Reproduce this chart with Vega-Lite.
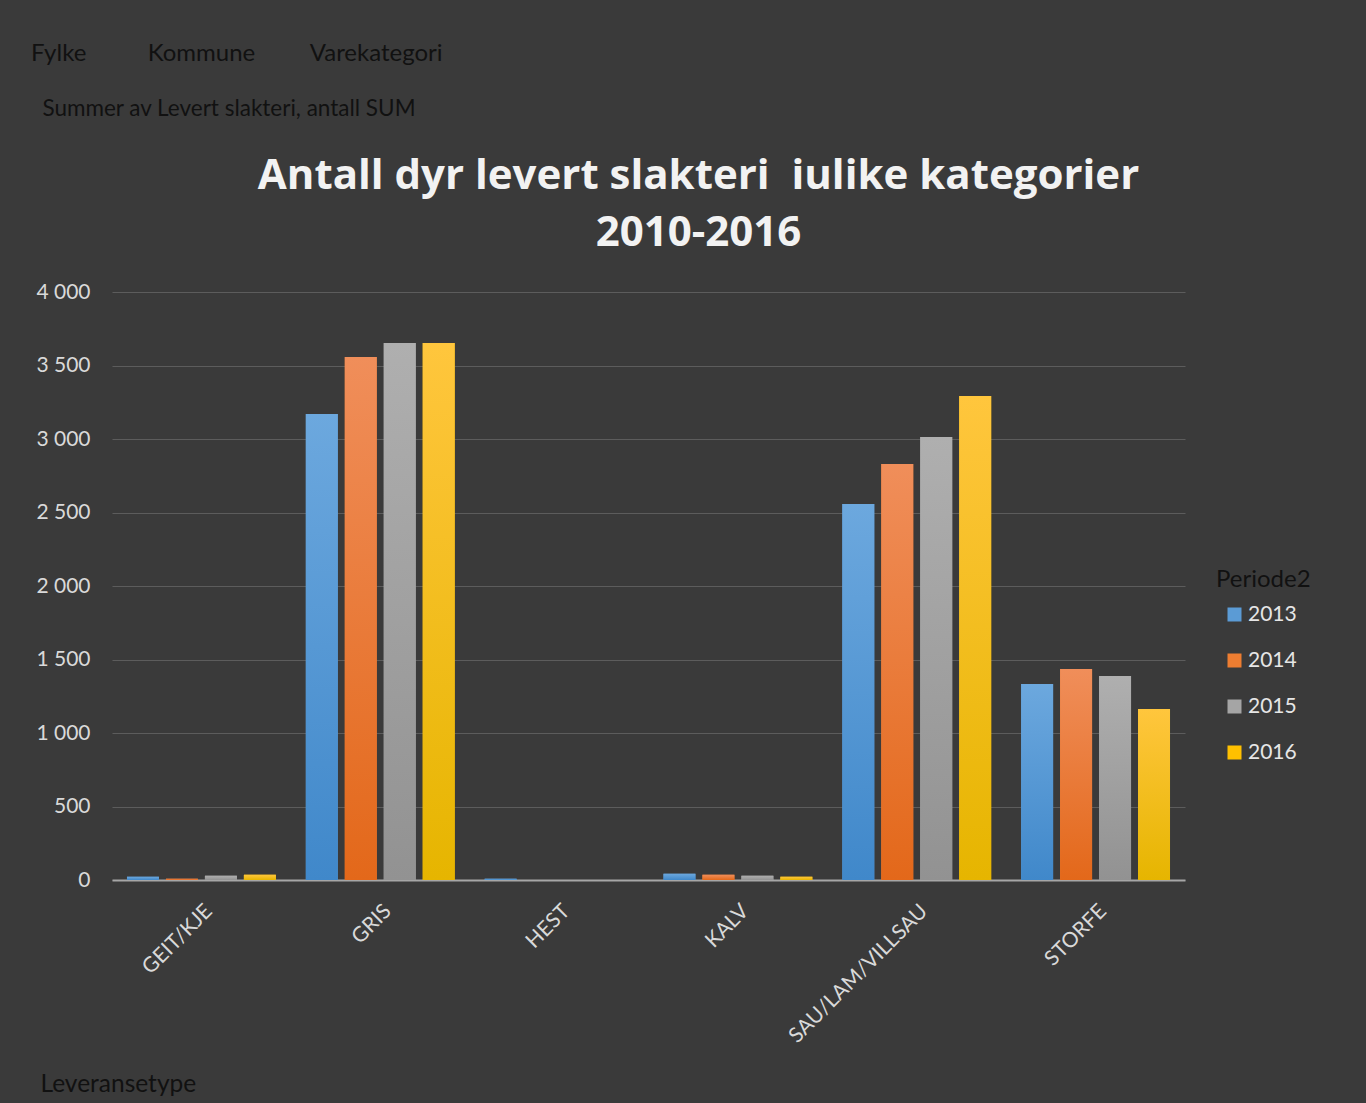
{
  "$schema": "https://vega.github.io/schema/vega-lite/v6.json",
  "background": "#3a3a3a",
  "padding": {"left": 30, "top": 41, "right": 64, "bottom": 18},
  "config": {"font": "Lato", "view": {"stroke": null}},
  "title": {
    "text": "Fylke\u00a0\u00a0\u00a0\u00a0\u00a0\u00a0\u00a0\u00a0\u00a0\u00a0Kommune\u00a0\u00a0\u00a0\u00a0\u00a0\u00a0\u00a0\u00a0\u00a0Varekategori",
    "subtitle": "\u200b\u00a0\u00a0Summer av Levert slakteri, antall SUM",
    "anchor": "start",
    "frame": "bounds",
    "dx": -5,
    "font": "Lato",
    "fontSize": 24,
    "fontWeight": "normal",
    "color": "#111111",
    "subtitleFont": "Lato",
    "subtitleFontSize": 22.5,
    "subtitleColor": "#111111",
    "subtitlePadding": 32,
    "offset": 35
  },
  "vconcat": [
    {
      "title": {
        "text": ["Antall dyr levert slakteri\u00a0 iulike kategorier", "2010-2016"],
        "font": "Open Sans",
        "fontSize": 42,
        "fontWeight": "bold",
        "color": "#f2f2f2",
        "lineHeight": 57,
        "anchor": "middle",
        "dx": 50,
        "offset": 26
      },
      "width": 1073,
      "height": 588,
      "data": {
        "values": [
          {"Leveransetype": "GEIT/KJE", "Periode2": "2013", "antall": 22},
          {"Leveransetype": "GEIT/KJE", "Periode2": "2014", "antall": 9},
          {"Leveransetype": "GEIT/KJE", "Periode2": "2015", "antall": 29},
          {"Leveransetype": "GEIT/KJE", "Periode2": "2016", "antall": 36},
          {"Leveransetype": "GRIS", "Periode2": "2013", "antall": 3170},
          {"Leveransetype": "GRIS", "Periode2": "2014", "antall": 3558},
          {"Leveransetype": "GRIS", "Periode2": "2015", "antall": 3653},
          {"Leveransetype": "GRIS", "Periode2": "2016", "antall": 3653},
          {"Leveransetype": "HEST", "Periode2": "2013", "antall": 8},
          {"Leveransetype": "HEST", "Periode2": "2014", "antall": 0},
          {"Leveransetype": "HEST", "Periode2": "2015", "antall": 0},
          {"Leveransetype": "HEST", "Periode2": "2016", "antall": 0},
          {"Leveransetype": "KALV", "Periode2": "2013", "antall": 43},
          {"Leveransetype": "KALV", "Periode2": "2014", "antall": 36},
          {"Leveransetype": "KALV", "Periode2": "2015", "antall": 29},
          {"Leveransetype": "KALV", "Periode2": "2016", "antall": 22},
          {"Leveransetype": "SAU/LAM/VILLSAU", "Periode2": "2013", "antall": 2558},
          {"Leveransetype": "SAU/LAM/VILLSAU", "Periode2": "2014", "antall": 2830},
          {"Leveransetype": "SAU/LAM/VILLSAU", "Periode2": "2015", "antall": 3014},
          {"Leveransetype": "SAU/LAM/VILLSAU", "Periode2": "2016", "antall": 3293},
          {"Leveransetype": "STORFE", "Periode2": "2013", "antall": 1333},
          {"Leveransetype": "STORFE", "Periode2": "2014", "antall": 1435},
          {"Leveransetype": "STORFE", "Periode2": "2015", "antall": 1388},
          {"Leveransetype": "STORFE", "Periode2": "2016", "antall": 1163}
        ]
      },
      "encoding": {
        "x": {
          "field": "Leveransetype",
          "type": "nominal",
          "sort": null,
          "scale": {"paddingInner": 0.1676, "paddingOuter": 0.0838},
          "axis": {
            "title": "Leveransetype",
            "titleFont": "Lato",
            "titleFontSize": 24.5,
            "titleFontWeight": "normal",
            "titleColor": "#111111",
            "titleAnchor": "start",
            "titleAlign": "left",
            "titleBaseline": "alphabetic",
            "titleX": -72,
            "titleY": 211,
            "domain": true,
            "domainColor": "#a6a6a6",
            "domainWidth": 2,
            "ticks": false,
            "labelAngle": -45,
            "labelFont": "Lato",
            "labelFontSize": 21,
            "labelColor": "#d9d9d9",
            "labelPadding": 20,
            "labelLimit": 400
          }
        },
        "xOffset": {
          "field": "Periode2",
          "type": "nominal",
          "scale": {"paddingInner": 0.18, "paddingOuter": 0}
        },
        "y": {
          "field": "antall",
          "type": "quantitative",
          "scale": {"domain": [0, 4000]},
          "axis": {
            "title": null,
            "values": [0, 500, 1000, 1500, 2000, 2500, 3000, 3500, 4000],
            "labelExpr": "replace(format(datum.value, ','), ',', '\u00a0')",
            "labelFont": "Lato",
            "labelFontSize": 21,
            "labelColor": "#d9d9d9",
            "labelPadding": 22,
            "domain": false,
            "ticks": false,
            "gridColor": "#5c5c5c",
            "gridWidth": 1.2
          }
        }
      },
      "layer": [
        {
          "mark": {"type": "bar"},
          "encoding": {
            "color": {
              "field": "Periode2",
              "type": "nominal",
              "scale": {"range": ["#5b9bd5", "#ed7d31", "#a5a5a5", "#ffc000"]},
              "legend": {
                "orient": "none",
                "legendX": 1104,
                "legendY": 276,
                "title": "Periode2",
                "titleFont": "Lato",
                "titleFontSize": 24,
                "titleFontWeight": "normal",
                "titleColor": "#111111",
                "titlePadding": 12,
                "symbolType": "square",
                "symbolSize": 196,
                "symbolStrokeWidth": 0,
                "symbolOpacity": 1,
                "symbolOffset": 8,
                "labelFont": "Lato",
                "labelFontSize": 21,
                "labelColor": "#e6e6e6",
                "labelOffset": 3,
                "rowPadding": 24,
                "padding": 0
              }
            }
          }
        },
        {
          "transform": [{"filter": "datum.Periode2 == '2013'"}],
          "mark": {"type": "bar", "fill": {"gradient": "linear", "x1": 0, "y1": 0, "x2": 0, "y2": 1, "stops": [{"offset": 0, "color": "#6ca8de"}, {"offset": 1, "color": "#4088ca"}]}}
        },
        {
          "transform": [{"filter": "datum.Periode2 == '2014'"}],
          "mark": {"type": "bar", "fill": {"gradient": "linear", "x1": 0, "y1": 0, "x2": 0, "y2": 1, "stops": [{"offset": 0, "color": "#f08e5a"}, {"offset": 1, "color": "#e3681a"}]}}
        },
        {
          "transform": [{"filter": "datum.Periode2 == '2015'"}],
          "mark": {"type": "bar", "fill": {"gradient": "linear", "x1": 0, "y1": 0, "x2": 0, "y2": 1, "stops": [{"offset": 0, "color": "#afafaf"}, {"offset": 1, "color": "#929292"}]}}
        },
        {
          "transform": [{"filter": "datum.Periode2 == '2016'"}],
          "mark": {"type": "bar", "fill": {"gradient": "linear", "x1": 0, "y1": 0, "x2": 0, "y2": 1, "stops": [{"offset": 0, "color": "#ffc63d"}, {"offset": 1, "color": "#e6b500"}]}}
        }
      ]
    }
  ]
}
